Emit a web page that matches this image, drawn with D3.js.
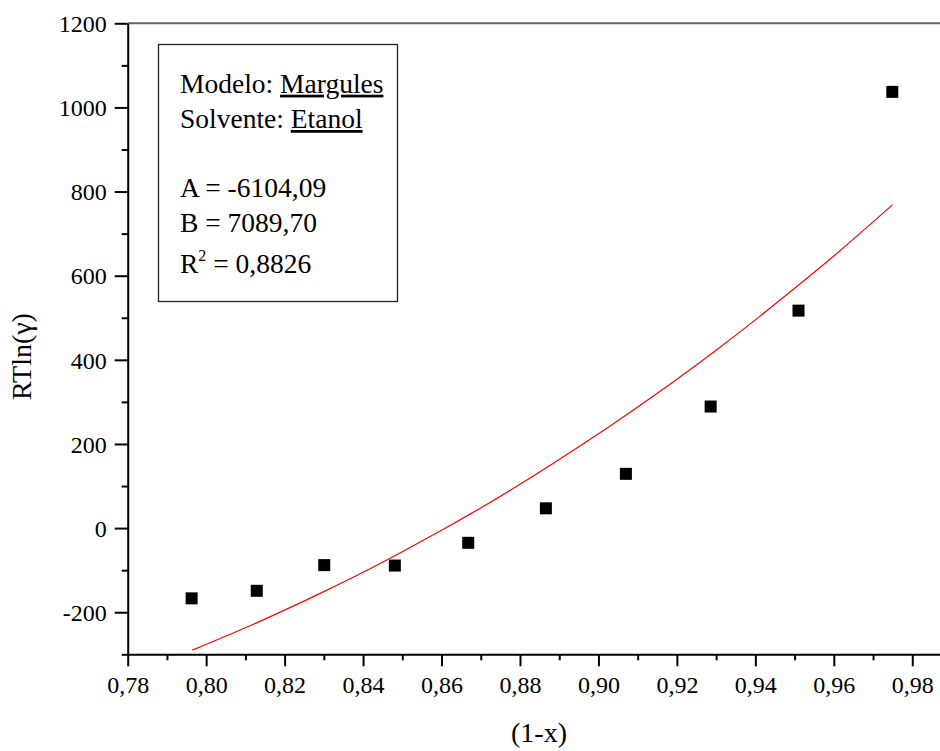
<!DOCTYPE html>
<html>
<head>
<meta charset="utf-8">
<script src="https://cdn.jsdelivr.net/npm/d3@7"></script>
<style>
  html, body { margin: 0; padding: 0; background: #fff; }
  svg { display: block; }
  text { font-family: "Liberation Serif", "Times New Roman", serif; fill: #000; }
</style>
</head>
<body>
<svg id="chart" width="940" height="751"></svg>
<script>
// Experimental points: (1-x) vs RTln(gamma)
const pointX = [0.7963, 0.8129, 0.8301, 0.8481, 0.8668, 0.8866, 0.9070, 0.9286, 0.9510, 0.9749];
const pointY = [-167, -149, -88, -89, -35, 47, 129, 289, 517, 1037];

// Fitted model curve (red line)
const fitX = [0.7965, 0.81, 0.82, 0.83, 0.84, 0.85, 0.86, 0.87, 0.88, 0.89, 0.90, 0.91, 0.92, 0.93, 0.94, 0.95, 0.96, 0.975];
const fitY = [-290, -237, -195, -151, -105, -56, -5, 48, 104, 163, 224, 288, 354, 423, 495, 570, 647, 769];

// Axis ticks
const xMajorTicks = [0.78, 0.80, 0.82, 0.84, 0.86, 0.88, 0.90, 0.92, 0.94, 0.96, 0.98];
const xMinorTicks = [0.79, 0.81, 0.83, 0.85, 0.87, 0.89, 0.91, 0.93, 0.95, 0.97];
const yMajorTicks = [-200, 0, 200, 400, 600, 800, 1000, 1200];
const yMinorTicks = [-300, -100, 100, 300, 500, 700, 900, 1100];

// Legend text
const legendTitleLines = [["Modelo: ", "Margules"], ["Solvente: ", "Etanol"]];
const legendParams = ["A = -6104,09", "B = 7089,70"];
const legendR2 = "0,8826";

const xTitle = "(1-x)";
const yTitle = "RTln(γ)";

const FONT = "Liberation Serif, Times New Roman, serif";
const svg = d3.select("#chart");

const x = d3.scaleLinear().domain([0.78, 0.99]).range([127.7, 951.5]);
const y = d3.scaleLinear().domain([-300, 1200]).range([654.3, 23.3]);

const commaFmt = v => d3.format(".2f")(v).replace(".", ",");
const intFmt = v => String(v); // plain hyphen minus

// Top frame line (gray)
svg.append("line")
  .attr("x1", x(0.78)).attr("x2", 940)
  .attr("y1", y(1200)).attr("y2", y(1200))
  .attr("stroke", "#666").attr("stroke-width", 2);

// Y axis - minor
const yMinor = svg.append("g").attr("transform", `translate(${x(0.78)},0)`)
  .call(d3.axisLeft(y).tickValues(yMinorTicks).tickSize(6).tickSizeOuter(0).tickFormat(""));
yMinor.select(".domain").remove();
// Y axis - major
const yAxis = svg.append("g").attr("transform", `translate(${x(0.78)},0)`)
  .call(d3.axisLeft(y).tickValues(yMajorTicks).tickSize(13).tickSizeOuter(0).tickPadding(8).tickFormat(intFmt));
yAxis.attr("font-family", FONT).attr("font-size", 24);
yAxis.selectAll("text").attr("dy", "0.34em");

// X axis - minor
const xMinor = svg.append("g").attr("transform", `translate(0,${y(-300)})`)
  .call(d3.axisBottom(x).tickValues(xMinorTicks).tickSize(6).tickSizeOuter(0).tickFormat(""));
xMinor.select(".domain").remove();
// X axis - major
const xAxis = svg.append("g").attr("transform", `translate(0,${y(-300)})`)
  .call(d3.axisBottom(x).tickValues(xMajorTicks).tickSize(12).tickSizeOuter(0).tickPadding(10).tickFormat(commaFmt));
xAxis.attr("font-family", FONT).attr("font-size", 24);
xAxis.selectAll("text").attr("dy", "0.71em");

svg.selectAll(".domain, .tick line").attr("stroke", "#000").attr("stroke-width", 2);
svg.selectAll(".tick text").attr("fill", "#000");

// Fit curve
const line = d3.line().x((d, i) => x(fitX[i])).y(d => y(d)).curve(d3.curveMonotoneX);
svg.append("path")
  .datum(fitY)
  .attr("d", line)
  .attr("fill", "none")
  .attr("stroke", "#ff0000")
  .attr("stroke-width", 1.2);

// Data points (squares)
const sq = 12;
svg.append("g").selectAll("rect")
  .data(pointY)
  .join("rect")
  .attr("x", (d, i) => x(pointX[i]) - sq / 2)
  .attr("y", d => y(d) - sq / 2)
  .attr("width", sq).attr("height", sq)
  .attr("fill", "#000");

// Legend box
const lg = svg.append("g").attr("font-family", FONT);
lg.append("rect")
  .attr("x", 158.5).attr("y", 44.5).attr("width", 239).attr("height", 257)
  .attr("fill", "#fff").attr("stroke", "#222").attr("stroke-width", 1.3);

const lx = 180;
const titleBase = [92.7, 128];
legendTitleLines.forEach((pair, i) => {
  const t = lg.append("text").attr("x", lx).attr("y", titleBase[i]).attr("font-size", 27.5);
  t.append("tspan").text(pair[0]);
  t.append("tspan").text(pair[1]).style("text-decoration", "underline");
});
const paramBase = [197, 232];
legendParams.forEach((s, i) => {
  lg.append("text").attr("x", lx).attr("y", paramBase[i]).attr("font-size", 27.5).text(s);
});
const r2 = lg.append("text").attr("x", lx).attr("y", 272.7).attr("font-size", 27.5);
r2.append("tspan").text("R");
r2.append("tspan").text("2").attr("dy", -12).attr("font-size", 16);
r2.append("tspan").text(" = " + legendR2).attr("dy", 12);

// Axis titles
svg.append("text")
  .attr("x", 539).attr("y", 742)
  .attr("text-anchor", "middle")
  .attr("font-family", FONT)
  .attr("font-size", 28)
  .text(xTitle);

svg.append("text")
  .attr("transform", "translate(31,356.5) rotate(-90)")
  .attr("text-anchor", "middle")
  .attr("font-family", FONT)
  .attr("font-size", 28)
  .text(yTitle);
</script>
</body>
</html>
